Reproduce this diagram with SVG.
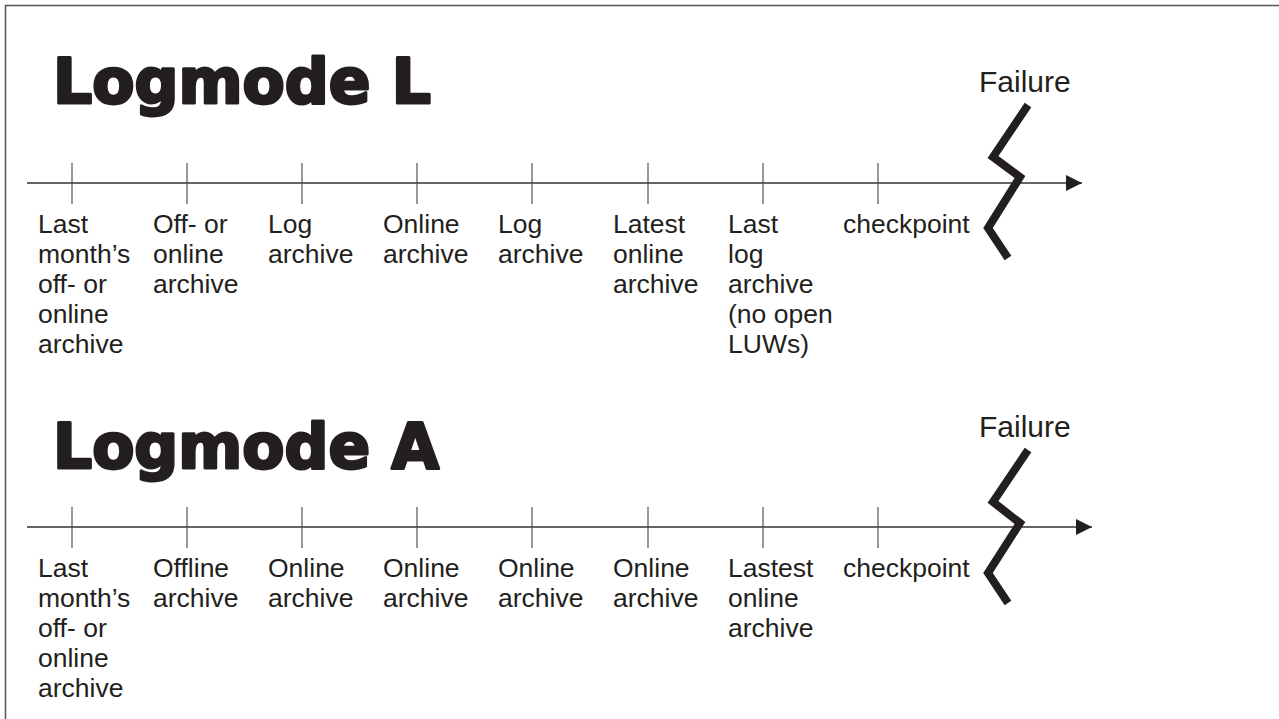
<svg xmlns="http://www.w3.org/2000/svg" width="1279" height="719" viewBox="0 0 1279 719">
  <style>
    .frame { fill: none; stroke: #555; stroke-width: 1.5; }
    .title { font-family: "DejaVu Sans", "Liberation Sans", sans-serif; font-weight: bold; font-size: 62px; fill: #231f20; stroke: #231f20; stroke-width: 3; stroke-linejoin: round; }
    .lbl { font-family: "Liberation Sans", Arial, sans-serif; font-size: 26.5px; fill: #231f20; }
    .fail { font-family: "Liberation Sans", Arial, sans-serif; font-size: 30px; fill: #231f20; }
    .axis { stroke: #333; stroke-width: 1.3; fill: none; }
    .tick { stroke: #444; stroke-width: 1.1; }
    .bolt { fill: none; stroke: #231f20; stroke-width: 8; stroke-linejoin: miter; stroke-miterlimit: 10; }
  </style>
  <defs>
    <marker id="head" markerUnits="userSpaceOnUse" markerWidth="18" markerHeight="18" refX="16" refY="8" orient="auto">
      <path d="M0,0 L16,8 L0,16 Z" fill="#231f20"/>
    </marker>
  </defs>

  <rect width="1279" height="719" fill="#fff"/>
  <rect class="frame" x="5.5" y="5.5" width="1300" height="760"/>

  <!-- Logmode L -->
  <g id="title-l"><text class="title" x="53" y="103" textLength="378" lengthAdjust="spacingAndGlyphs">Logmode L</text></g>

  <g id="connectors">
    <line class="axis" x1="27" y1="183" x2="1082" y2="183" marker-end="url(#head)"/>
    <line class="axis" x1="27" y1="527" x2="1092" y2="527" marker-end="url(#head)"/>
    <g id="ticks-l">
      <line class="tick" x1="72" y1="163" x2="72" y2="204"/>
      <line class="tick" x1="187" y1="163" x2="187" y2="204"/>
      <line class="tick" x1="302" y1="163" x2="302" y2="204"/>
      <line class="tick" x1="417" y1="163" x2="417" y2="204"/>
      <line class="tick" x1="532" y1="163" x2="532" y2="204"/>
      <line class="tick" x1="648" y1="163" x2="648" y2="204"/>
      <line class="tick" x1="763" y1="163" x2="763" y2="204"/>
      <line class="tick" x1="878" y1="163" x2="878" y2="204"/>
    </g>
    <g id="ticks-a">
      <line class="tick" x1="72" y1="507" x2="72" y2="548"/>
      <line class="tick" x1="187" y1="507" x2="187" y2="548"/>
      <line class="tick" x1="302" y1="507" x2="302" y2="548"/>
      <line class="tick" x1="417" y1="507" x2="417" y2="548"/>
      <line class="tick" x1="532" y1="507" x2="532" y2="548"/>
      <line class="tick" x1="648" y1="507" x2="648" y2="548"/>
      <line class="tick" x1="763" y1="507" x2="763" y2="548"/>
      <line class="tick" x1="878" y1="507" x2="878" y2="548"/>
    </g>
  </g>

  <g id="l-1" class="lbl"><text x="38" y="233">Last</text><text x="38" y="263">month’s</text><text x="38" y="293">off- or</text><text x="38" y="323">online</text><text x="38" y="353">archive</text></g>
  <g id="l-2" class="lbl"><text x="153" y="233">Off- or</text><text x="153" y="263">online</text><text x="153" y="293">archive</text></g>
  <g id="l-3" class="lbl"><text x="268" y="233">Log</text><text x="268" y="263">archive</text></g>
  <g id="l-4" class="lbl"><text x="383" y="233">Online</text><text x="383" y="263">archive</text></g>
  <g id="l-5" class="lbl"><text x="498" y="233">Log</text><text x="498" y="263">archive</text></g>
  <g id="l-6" class="lbl"><text x="613" y="233">Latest</text><text x="613" y="263">online</text><text x="613" y="293">archive</text></g>
  <g id="l-7" class="lbl"><text x="728" y="233">Last</text><text x="728" y="263">log</text><text x="728" y="293">archive</text><text x="728" y="323">(no open</text><text x="728" y="353">LUWs)</text></g>
  <g id="l-8" class="lbl"><text x="843" y="233">checkpoint</text></g>
  <g id="l-failure">
    <text class="fail" x="979" y="92">Failure</text>
    <polyline class="bolt" points="1028,105 993,157 1020,177 988,228 1008,258"/>
  </g>

  <!-- Logmode A -->
  <g id="title-a"><text class="title" x="53" y="468" textLength="386" lengthAdjust="spacingAndGlyphs">Logmode A</text></g>

  <g id="a-1" class="lbl"><text x="38" y="577">Last</text><text x="38" y="607">month’s</text><text x="38" y="637">off- or</text><text x="38" y="667">online</text><text x="38" y="697">archive</text></g>
  <g id="a-2" class="lbl"><text x="153" y="577">Offline</text><text x="153" y="607">archive</text></g>
  <g id="a-3" class="lbl"><text x="268" y="577">Online</text><text x="268" y="607">archive</text></g>
  <g id="a-4" class="lbl"><text x="383" y="577">Online</text><text x="383" y="607">archive</text></g>
  <g id="a-5" class="lbl"><text x="498" y="577">Online</text><text x="498" y="607">archive</text></g>
  <g id="a-6" class="lbl"><text x="613" y="577">Online</text><text x="613" y="607">archive</text></g>
  <g id="a-7" class="lbl"><text x="728" y="577">Lastest</text><text x="728" y="607">online</text><text x="728" y="637">archive</text></g>
  <g id="a-8" class="lbl"><text x="843" y="577">checkpoint</text></g>
  <g id="a-failure">
    <text class="fail" x="979" y="437">Failure</text>
    <polyline class="bolt" points="1028,450 993,502 1020,523 988,573 1008,603"/>
  </g>
</svg>
